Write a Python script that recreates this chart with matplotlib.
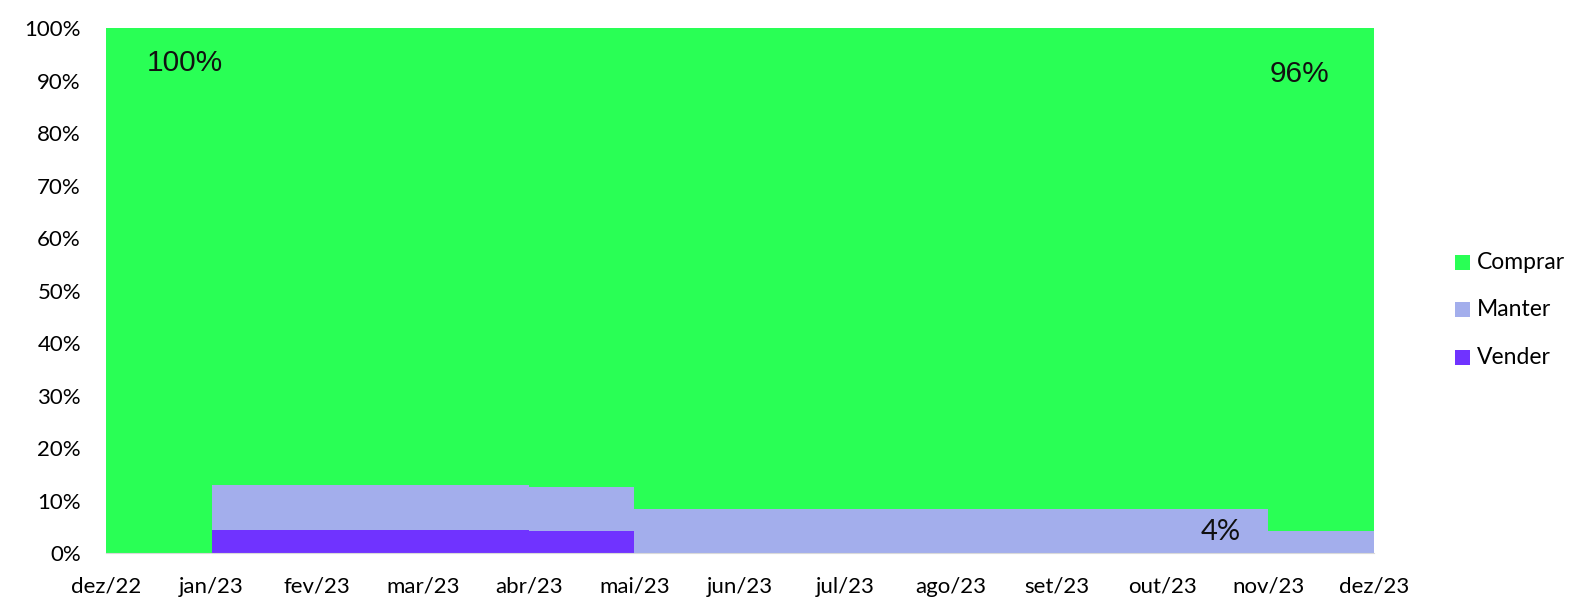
import numpy as np
import matplotlib
matplotlib.use("Agg")
import matplotlib.pyplot as plt
from matplotlib.patches import Rectangle

months = ["dez/22", "jan/23", "fev/23", "mar/23", "abr/23", "mai/23", "jun/23",
          "jul/23", "ago/23", "set/23", "out/23", "nov/23", "dez/23"]
vender = [0.0, 4.35, 4.35, 4.35, 4.17, 0.0, 0.0, 0.0, 0.0, 0.0, 0.0, 0.0, 0.0]
manter = [0.0, 8.70, 8.70, 8.70, 8.33, 8.33, 8.33, 8.33, 8.33, 8.33, 8.33, 4.17, 4.17]
comprar = [100 - v - m for v, m in zip(vender, manter)]
series_names = ["Comprar", "Manter", "Vender"]
colors = {"Comprar": "#29FF55", "Manter": "#A3AEEC", "Vender": "#7033FF"}

plt.rcParams['font.family'] = ['Lato', 'DejaVu Sans']

fig = plt.figure(figsize=(15.77, 6.01), dpi=100)
ax = fig.add_axes([0.0672, 0.0799, 0.8040, 0.8727])

x = np.arange(len(months))
v = np.array(vender)
m = np.array(manter)
c = np.array(comprar)

ax.fill_between(x, 0, v, step='post', color=colors["Vender"], lw=0, zorder=2)
ax.fill_between(x, v, v + m, step='post', color=colors["Manter"], lw=0, zorder=2)
ax.fill_between(x, v + m, v + m + c, step='post', color=colors["Comprar"], lw=0, zorder=2)

ax.set_xlim(0, len(months) - 1)
ax.set_ylim(0, 100)
ax.set_yticks(np.arange(0, 101, 10))
ax.set_yticklabels([f"{t}%" for t in range(0, 101, 10)], fontsize=16, color="#000000")
ax.set_xticks(x)
ax.set_xticklabels(months, fontsize=16, color="#000000")
ax.tick_params(axis='both', length=0)
ax.tick_params(axis='y', pad=18)
ax.tick_params(axis='x', pad=17)

ax.grid(axis='y', color='#D9D9D9', lw=1, zorder=0)
for s in ['top', 'right', 'left']:
    ax.spines[s].set_visible(False)
ax.spines['bottom'].set_color('#D9D9D9')
ax.spines['bottom'].set_zorder(3)

# Annotations
ax.text(0.75, 93.4, f"{comprar[0]:.0f}%", fontsize=21.5, family='Liberation Sans',
        ha='center', va='center', color='#111111', zorder=4)
ax.text(11.3, 91.4, f"{round(comprar[-1]):.0f}%", fontsize=21.5, family='Liberation Sans',
        ha='center', va='center', color='#111111', zorder=4)
ax.text(10.55, 4.0, f"{round(manter[-1]):.0f}%", fontsize=21,
        ha='center', va='center', color='#111111', zorder=4)

# Legend (manual, right side)
W, H = 1577.0, 601.0
sq = 15.0
leg_x = 1455.0
leg_y0 = 262.0
leg_dy = 47.5
for i, name in enumerate(series_names):
    yc = leg_y0 + i * leg_dy
    fig.add_artist(Rectangle((leg_x / W, 1 - (yc + sq / 2) / H), sq / W, sq / H,
                             transform=fig.transFigure, facecolor=colors[name],
                             edgecolor='none'))
    fig.text((leg_x + sq + 7) / W, 1 - yc / H, name, fontsize=16.5,
             ha='left', va='center', color='#000000')

fig.savefig("out.png", dpi=100)
